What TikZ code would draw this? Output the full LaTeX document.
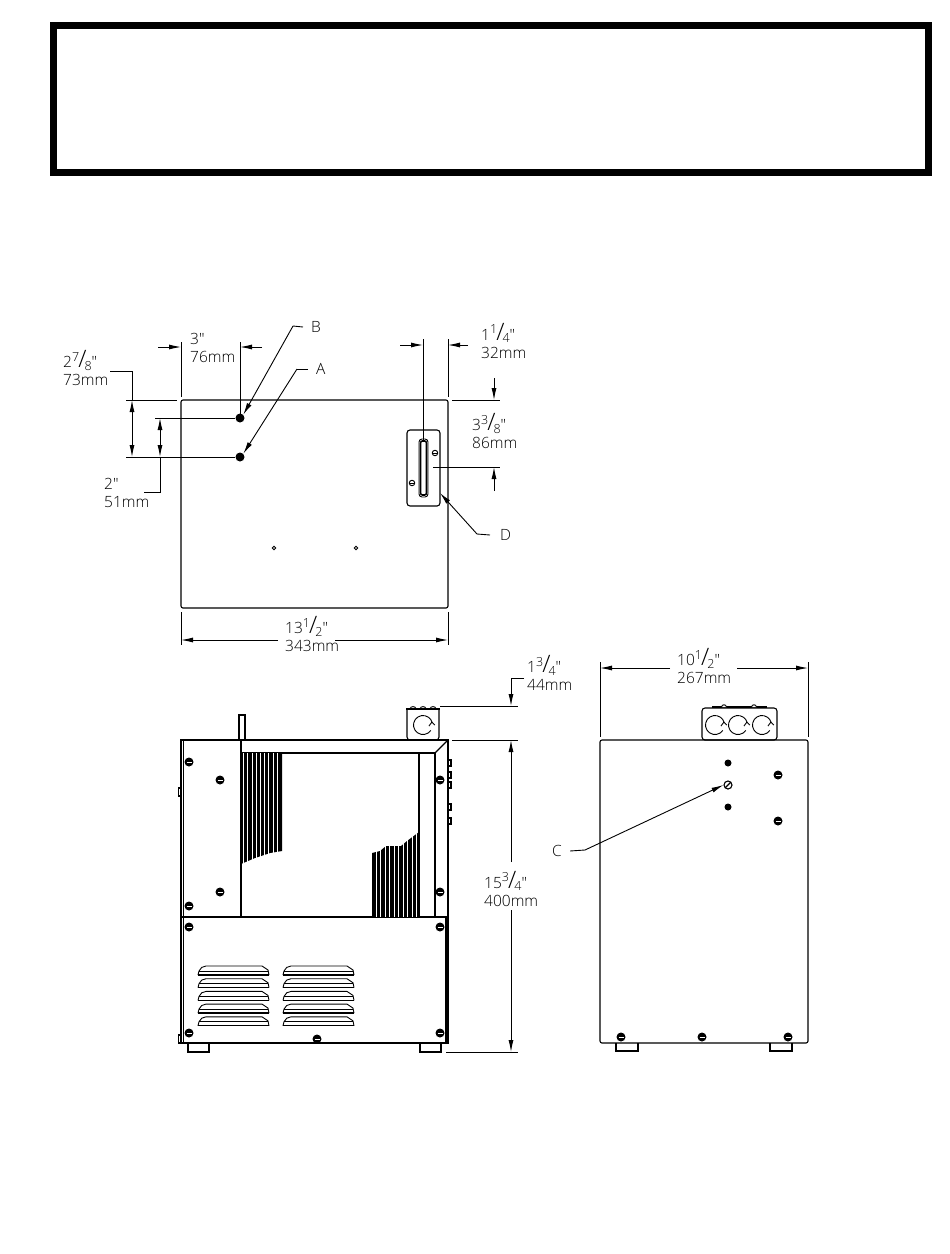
\documentclass[tikz,border=0pt]{standalone}
\usepackage{fontspec}
\newfontfamily\dimfont{Open Sans Light}
\usetikzlibrary{arrows.meta,calc}

\newcommand{\frc}[2]{\smash{\raisebox{.42em}{\fontsize{12.5}{12}\selectfont #1}\kern-.06em{\fontsize{24}{24}\selectfont /}\kern-.12em\raisebox{-.16em}{\fontsize{12.5}{12}\selectfont #2}}}

\begin{document}
\begin{tikzpicture}[x=1pt,y=-1pt]
\tikzset{
	part line/.style = {line width = 1.1},
	thin line/.style = {line width = 0.9},
	dim label/.style = {anchor = west, align = left, inner sep = 0, text = black, font = \dimfont\fontsize{15.5}{18}\selectfont},
	dim arrow/.style = {line width = 0.9, -{Latex[length = 12, width = 5]}},
	both arrow/.style = {line width = 0.9, {Latex[length = 12, width = 5]}-{Latex[length = 12, width = 5]}},
	solid node/.style = {circle, fill = black, inner sep = 0, minimum size = 9},
	screw node/.style = {circle, fill = black, inner sep = 0, minimum size = 9,
		path picture = {\draw [white, line width = 1] ([xshift = -2.5]path picture bounding box.center) -- ([xshift = 2.5]path picture bounding box.center);}},
	small node/.style = {circle, fill = black, inner sep = 0, minimum size = 7},
	hollow node/.style = {circle, draw, thin line, inner sep = 0, minimum size = 3.5},
}
\useasboundingbox (0,0) rectangle (950,1254);

% banner
\draw [line width = 7] (53.5,25.5) rectangle (928.5,172.5);

% plan view
\draw [part line, rounded corners = 2] (181,400) rectangle (448,608);
\draw [part line, rounded corners = 3] (407,430) rectangle (440,506);
\draw [thin line, rounded corners = 3, fill = white] (419,439) rectangle (428,497);
\draw [line width = 1.6, rounded corners = 2] (420.5,441) rectangle (426.5,495);
\node (dotB)[solid node] at (240,418) {};
\node (dotA)[solid node] at (240,457) {};
\node (holeL)[hollow node] at (274,548) {};
\node (holeR)[hollow node] at (356,548) {};
\node (plateT)[hollow node, minimum size = 5.5, path picture = {\draw (path picture bounding box.west) -- (path picture bounding box.east);}] at (435,453) {};
\node (plateB)[hollow node, minimum size = 5.5, path picture = {\draw (path picture bounding box.west) -- (path picture bounding box.east);}] at (412,483) {};

\coordinate (e1a) at (181,342);  \coordinate (e1b) at (181,397);
\coordinate (e2a) at (240,342);  \coordinate (e2b) at (240,414);
\coordinate (e3a) at (423,339);  \coordinate (e3b) at (423,440);
\coordinate (e4a) at (448,339);  \coordinate (e4b) at (448,397);
\draw [thin line] (e1a) -- (e1b);
\draw [thin line] (e2a) -- (e2b);
\draw [thin line] (e3a) -- (e3b);
\draw [thin line] (e4a) -- (e4b);
\coordinate (a1) at (158,347);  \coordinate (a1e) at (181,347);
\coordinate (a2) at (262,347);  \coordinate (a2e) at (240,347);
\coordinate (a3) at (400,345);  \coordinate (a3e) at (423,345);
\coordinate (a4) at (468,345);  \coordinate (a4e) at (448,345);
\draw [dim arrow] (a1) -- (a1e);
\draw [dim arrow] (a2) -- (a2e);
\draw [dim arrow] (a3) -- (a3e);
\draw [dim arrow] (a4) -- (a4e);

\coordinate (h1a) at (126,400);  \coordinate (h1b) at (177,400);
\coordinate (h2a) at (155,418);
\coordinate (h3a) at (126,457);
\draw [thin line] (h1a) -- (h1b);
\draw [thin line] (h2a) -- (dotB);
\draw [thin line] (h3a) -- (dotA);
\coordinate (v1a) at (132,400);  \coordinate (v1b) at (132,457);
\coordinate (v2a) at (160,418);  \coordinate (v2b) at (160,457);
\draw [both arrow] (v1a) -- (v1b);
\draw [both arrow] (v2a) -- (v2b);
\coordinate (l1) at (110,371);
\coordinate (l2) at (144,492);
\draw [thin line] (v1a) |- (l1);
\draw [thin line] (v2b) |- (l2);

\coordinate (h4a) at (452,400);  \coordinate (h4b) at (500,400);
\coordinate (h5a) at (433,467);  \coordinate (h5b) at (500,467);
\draw [thin line] (h4a) -- (h4b);
\draw [thin line] (h5a) -- (h5b);
\coordinate (v3a) at (494,378);  \coordinate (v3b) at (494,400);
\coordinate (v4a) at (494,491);  \coordinate (v4b) at (494,467);
\draw [dim arrow] (v3a) -- (v3b);
\draw [dim arrow] (v4a) -- (v4b);

\node (labB)[dim label] at (311,327) {B};
\node (labA)[dim label] at (316,369) {A};
\node (labD)[dim label] at (500,535) {D};
\coordinate (kB) at (293,326);
\coordinate (kA) at (297,369);
\coordinate (kD) at (477,534);
\draw [thin line] (labB.west) ++(-8,0) -- (kB);
\draw [thin line] (labA.west) ++(-8,0) -- (kA);
\draw [thin line] (labD.west) ++(-10,0) -- (kD);
\draw [dim arrow] (kB) -- (dotB.north east);
\draw [dim arrow] (kA) -- (dotA.north east);
\coordinate (tipD) at (440,493);
\draw [dim arrow] (kD) -- (tipD);

\node (lab3)[dim label] at (190,348) {3"\\76mm};
\node (lab78)[dim label] at (63,371) {2\frc{7}{8}"\\73mm};
\node (lab2)[dim label] at (104,493) {2"\\51mm};
\node (lab14)[dim label] at (481,344) {1\frc{1}{4}"\\32mm};
\node (lab38)[dim label] at (472,434) {3\frc{3}{8}"\\86mm};
\node (lab12)[dim label] at (285,637) {13\frc{1}{2}"\\343mm};

\coordinate (e5a) at (181,612);  \coordinate (e5b) at (181,645);
\coordinate (e6a) at (448,612);  \coordinate (e6b) at (448,645);
\draw [thin line] (e5a) -- (e5b);
\draw [thin line] (e6a) -- (e6b);
\coordinate (a5) at (278,640);  \coordinate (a5e) at (181,640);
\coordinate (a6) at (335,640);  \coordinate (a6e) at (448,640);
\draw [dim arrow] (a5) -- (a5e);
\draw [dim arrow] (a6) -- (a6e);

% front view
\draw [part line, fill = white] (239,715) rectangle (245,740);
\draw [part line] (181,740) -- (448,740) -- (448,1043) -- (181,1043) -- cycle;
\draw [part line] (183.5,740) -- (183.5,1043);
\draw [part line] (446,917) -- (446,1043);
\draw [part line] (181,917) -- (448,917);
\draw [part line] (241,740) -- (241,917);
\draw [part line] (241,753) -- (435,753) -- (435,917);
\draw [part line] (435,753) -- (448,740);
\draw [part line] (419,753) -- (419,917);

\fill (241,753) -- (282,753) -- (282,851) -- (270,853) -- (255,858) -- (241,864) -- cycle;
\fill (372,917) -- (372,853) -- (380,851) -- (386,846) -- (401,846) -- (407,841) -- (419,832) -- (419,917) -- cycle;
\foreach \x in {243.5,247.7,...,281} {
	\draw [white, line width = 0.6] (\x,753) -- (\x,866);
}
\foreach \x in {376,380.5,...,418} {
	\draw [white, line width = 0.6] (\x,830) -- (\x,917);
}

\foreach \x in {198,283} {
	\foreach \y in {966,978.7,991.4,1004.1,1016.8} {
		\draw [thin line] (\x,\y+9) -- (\x+1,\y+5) .. controls (\x+2,\y+2) and (\x+5,\y) .. (\x+8,\y) -- (\x+64,\y) -- (\x+70,\y+4) -- (\x+71,\y+9);
		\draw [thin line] (\x+1,\y+5) -- (\x+70,\y+5);
		\draw [line width = 1.3] (\x,\y+9) -- (\x+71,\y+9);
	}
}

\node (sf1)[screw node] at (189,762) {};
\node (sf2)[screw node] at (220,780) {};
\node (sf3)[screw node] at (220,892) {};
\node (sf4)[screw node] at (189,906) {};
\node (sf5)[screw node] at (440,780) {};
\node (sf6)[screw node] at (440,892) {};
\node (sf7)[screw node] at (189,927) {};
\node (sf8)[screw node] at (440,927) {};
\node (sf9)[screw node] at (189,1033) {};
\node (sf10)[screw node] at (440,1033) {};
\node (sf11)[screw node] at (317,1039) {};

\draw [part line] (178.5,788) rectangle (181,796);
\draw [part line] (178.5,1035) rectangle (181,1043);
\foreach \y in {763,775,785,807,821} {
	\draw [part line] (448,\y-3) rectangle (451,\y+3);
}
\draw [part line] (188,1043) |- (209,1052) -- (209,1043);
\draw [part line] (420,1043) |- (441,1052) -- (441,1043);

% conduit box
\draw [part line, rounded corners = 3] (407,710) -- (407,740) -- (439,740) -- (439,710);
\draw [part line] (406,709) -- (440,709);
\foreach \x in {413,423,433} {
	\draw [thin line] (\x-3,708.5) .. controls (\x-2,706) and (\x+2,706) .. (\x+3,708.5);
}
\foreach \x/\y in {423/725,715/725,738/725,762/725} {
	\draw [thin line] (\x,\y) ++(35:9.5) arc (35:345:9.5);
	\draw [thin line] (\x,\y) ++(10:6) -- ++(3,-4) -- ++(3,3);
}

\coordinate (h6a) at (440,706);  \coordinate (h6b) at (518,706);
\coordinate (h7a) at (452,740);  \coordinate (h7b) at (518,740);
\coordinate (h8a) at (446,1052); \coordinate (h8b) at (518,1052);
\draw [thin line] (h6a) -- (h6b);
\draw [thin line] (h7a) -- (h7b);
\draw [thin line] (h8a) -- (h8b);
\coordinate (v5a) at (511,678);  \coordinate (v5b) at (511,706);
\coordinate (l3) at (524,678);
\draw [dim arrow] (l3) -- (v5a) -- (v5b);
\coordinate (v6a) at (511,862);  \coordinate (v6b) at (511,740);
\coordinate (v7a) at (511,910);  \coordinate (v7b) at (511,1052);
\draw [dim arrow] (v6a) -- (v6b);
\draw [dim arrow] (v7a) -- (v7b);

\node (lab34)[dim label] at (527,676) {1\frc{3}{4}"\\44mm};
\node (lab15)[dim label] at (484,892) {15\frc{3}{4}"\\400mm};

% side view
\draw [part line, rounded corners = 2] (600,740) -- (808,740) -- (808,1043) -- (600,1043) -- cycle;
\draw [part line, rounded corners = 3] (702,708) -- (702,740) -- (777,740) -- (777,708) -- cycle;
\draw [line width = 1.1] (712,707) -- (767,707);
\foreach \x in {724,754} {
	\draw [thin line, fill = white] (\x-2.5,707) .. controls (\x-2,704) and (\x+2,704) .. (\x+2.5,707);
}

\node (ss1)[small node] at (728,763) {};
\node (ss2)[small node] at (728,807) {};
\node (ss3)[screw node] at (778,775) {};
\node (ss4)[screw node] at (778,821) {};
\node (ss5)[screw node] at (621,1037) {};
\node (ss6)[screw node] at (702,1037) {};
\node (ss7)[screw node] at (788,1037) {};
\node (ssC)[circle, draw, part line, inner sep = 0, minimum size = 8, path picture = {\draw (path picture bounding box.south west) -- (path picture bounding box.north east);}] at (728,785) {};

\draw [part line] (616,1043) |- (638,1051) -- (638,1043);
\draw [part line] (770,1043) |- (792,1051) -- (792,1043);

\node (labC)[dim label] at (552,851) {C};
\coordinate (kC) at (585,850);
\draw [thin line] (labC.east) ++(8,0) -- (kC);
\draw [dim arrow] (kC) -- (ssC.west);

\coordinate (e7a) at (600,662);  \coordinate (e7b) at (600,737);
\coordinate (e8a) at (808,662);  \coordinate (e8b) at (808,737);
\draw [thin line] (e7a) -- (e7b);
\draw [thin line] (e8a) -- (e8b);
\coordinate (a7) at (670,668);  \coordinate (a7e) at (600,668);
\coordinate (a8) at (737,668);  \coordinate (a8e) at (808,668);
\draw [dim arrow] (a7) -- (a7e);
\draw [dim arrow] (a8) -- (a8e);
\node (lab10)[dim label] at (677,669) {10\frc{1}{2}"\\267mm};

\end{tikzpicture}
\end{document}
